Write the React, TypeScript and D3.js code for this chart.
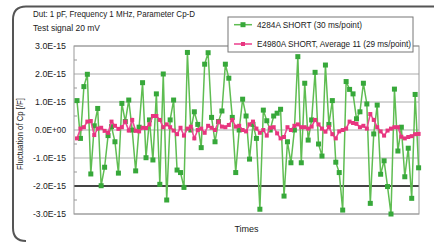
import React from "react";
import * as d3 from "d3";

const titleLines = ["Dut: 1 pF, Frequency 1 MHz, Parameter Cp-D", "Test signal 20 mV"];
const seriesNames = ["4284A SHORT (30 ms/point)", "E4980A SHORT, Average 11 (29 ms/point)"];
const yTickValues = [3, 2, 1, 0, -1, -2, -3];
const yTickLabels = ["3.0E-15", "2.0E-15", "1.0E-15", "0.0E+00", "-1.0E-15", "-2.0E-15", "-3.0E-15"];
const yMinorTicks = [2.5, 1.5, 0.5, -0.5, -1.5, -2.5];
const yLabel = "Fluctuation of Cp [/F]";
const xLabel = "Times";

// values in units of 1E-15 F
const green4284A = [
  1.05, -0.3, 1.55, 1.99, -1.57, 0.15, 0.77, -1.99, -1.33, -0.2,
  0.12, -0.42, -1.54, 0.95, 0.3, 1.07, 0.0, -1.46, 0.1, 1.69,
  -0.99, 0.36, -1.07, 1.29, -1.94, 2.0, -2.5, 0.36, 1.07, -1.43,
  -1.52, -2.05, 2.77, 0.0, 0.65, 0.2, -0.63, 2.35, 2.76, 0.45,
  -0.42, 0.3, 0.68, 2.35, 1.85, 0.45, -1.52, 0.0, 1.1, 0.5,
  -1.04, 0.2, -0.3, -2.83, 0.71, 0.33, 0.0, 0.5, 0.6, 0.74,
  -2.36, -0.42, -1.17, 0.0, 2.62, -1.17, 1.67, -0.36, 0.36, 2.06,
  -0.5, -0.93, 2.32, 0.2, 1.05, -1.15, -1.52, -2.86, 1.73, 1.45,
  1.29, 0.4, 0.65, 1.67, 0.93, -2.62, -0.14, 0.89, -1.58, -1.1,
  -2.02, -3.0, 1.46, -0.75, 0.1, -1.67, -0.65, -2.44, 1.27, -1.35,
];
const pinkE4980A = [
  -0.3, 0.05, 0.1, 0.3, 0.32, -0.18, 0.05, 0.08, -0.03, -0.1,
  0.3, 0.15, 0.04, 0.1, 0.3, -0.02, 0.36, -0.03, -0.05, 0.08,
  0.07, 0.2, 0.5, 0.5, 0.36, 0.1, 0.2, 0.1, -0.02, -0.15,
  0.08, -0.2, 0.05, 0.12, -0.3, 0.0, 0.05, -0.1, 0.15, 0.08,
  0.0, 0.3, 0.12, 0.1, 0.18, 0.36, 0.12, 0.15, 0.0, -0.05,
  0.2, 0.3, 0.05, -0.1, 0.0, -0.2, 0.08, 0.1, -0.12, -0.3,
  -0.25, 0.1, 0.0, 0.15, 0.2, 0.1, 0.1, 0.05, 0.12, 0.36,
  0.2, 0.05, -0.06, 0.1, -0.15, -0.3, -0.05, 0.0, 0.05, 0.3,
  0.25, 0.22, 0.1, 0.15, 0.05, 0.57, 0.36, 0.1, -0.05, -0.2,
  -0.02, 0.05, 0.1, 0.1, -0.24, -0.3, -0.25, -0.22, -0.15, -0.14,
];

const GREEN_LINE = "#5fbd52";
const GREEN_MARK = "#37a83a";
const PINK_LINE = "#ec4a93";
const PINK_MARK = "#e8357f";
const FONT = "'Liberation Sans Narrow', 'Liberation Sans', Arial, sans-serif";

export default function App() {
  const W = 434, H = 243;
  const left = 74, right = 419, top = 46, bottom = 214;
  const x = d3.scaleLinear().domain([0, green4284A.length - 1]).range([77, 418.6]);
  const y = d3.scaleLinear().domain([-3, 3]).range([bottom, top]);
  const line = d3.line<number>().x((_, i) => x(i)).y((d) => y(d));
  const gs = 5, ps = 4;

  return (
    <svg width={W} height={H} style={{ position: "absolute", left: 0, top: 0, background: "#fff" }}
      fontFamily={FONT}>
      {/* outer frame */}
      <path d={`M ${W} 6.5 H 26 Q 13 6.5 13 19.5 V 228 Q 13 241 26 241`} fill="none" stroke="#555" strokeWidth={2} />
      {/* title */}
      <text x={33} y={16.5} fontSize={9} fill="#1a1a1a" textLength={162} lengthAdjust="spacingAndGlyphs">{titleLines[0]}</text>
      <text x={33} y={30.5} fontSize={9} fill="#1a1a1a" textLength={67} lengthAdjust="spacingAndGlyphs">{titleLines[1]}</text>

      {/* grid */}
      {yTickValues.map((v) => (
        <line key={"g" + v} x1={left} x2={right} y1={y(v)} y2={y(v)}
          stroke={v === -2 ? "#444" : "#aaa"} strokeWidth={v === -2 ? 2 : 1} />
      ))}
      <rect x={left} y={top} width={right - left} height={bottom - top} fill="none" stroke="#999" strokeWidth={1} />
      {yMinorTicks.map((v) => (
        <line key={"m" + v} x1={left} x2={left + 3} y1={y(v)} y2={y(v)} stroke="#999" strokeWidth={1} />
      ))}
      {yTickValues.map((v, i) => (
        <text key={"t" + v} x={66} y={y(v) + 3.2} fontSize={9} fill="#1a1a1a" textAnchor="end"
          textLength={yTickLabels[i].startsWith("-") ? 33 : 31} lengthAdjust="spacingAndGlyphs">{yTickLabels[i]}</text>
      ))}

      {/* green series */}
      <path d={line(green4284A) || ""} fill="none" stroke={GREEN_LINE} strokeWidth={1.5} />
      {green4284A.map((v, i) => (
        <rect key={"gm" + i} x={x(i) - gs / 2} y={y(v) - gs / 2} width={gs} height={gs} fill={GREEN_MARK} />
      ))}
      {/* pink series */}
      <path d={line(pinkE4980A) || ""} fill="none" stroke={PINK_LINE} strokeWidth={1.6} />
      {pinkE4980A.map((v, i) => (
        <rect key={"pm" + i} x={x(i) - ps / 2} y={y(v) - ps / 2} width={ps} height={ps} fill={PINK_MARK} />
      ))}

      {/* legend */}
      <rect x={228} y={17} width={185} height={35} fill="#fff" stroke="#777" strokeWidth={1} />
      <line x1={234} x2={252} y1={24.7} y2={24.7} stroke={GREEN_LINE} strokeWidth={1.5} />
      <rect x={243 - gs / 2} y={24.7 - gs / 2} width={gs} height={gs} fill={GREEN_MARK} />
      <text x={257} y={27.8} fontSize={9} fill="#1a1a1a" textLength={105} lengthAdjust="spacingAndGlyphs">{seriesNames[0]}</text>
      <line x1={234} x2={252} y1={44} y2={44} stroke={PINK_LINE} strokeWidth={1.6} />
      <rect x={243 - ps / 2} y={44 - ps / 2} width={ps} height={ps} fill={PINK_MARK} />
      <text x={257} y={47.2} fontSize={9} fill="#1a1a1a" textLength={154} lengthAdjust="spacingAndGlyphs">{seriesNames[1]}</text>

      {/* axis titles */}
      <text transform="translate(23,134) rotate(-90)" fontSize={9} fill="#1a1a1a" textAnchor="middle"
        textLength={72} lengthAdjust="spacingAndGlyphs">{yLabel}</text>
      <text x={246.5} y={231.5} fontSize={9} fill="#1a1a1a" textAnchor="middle">{xLabel}</text>
    </svg>
  );
}
